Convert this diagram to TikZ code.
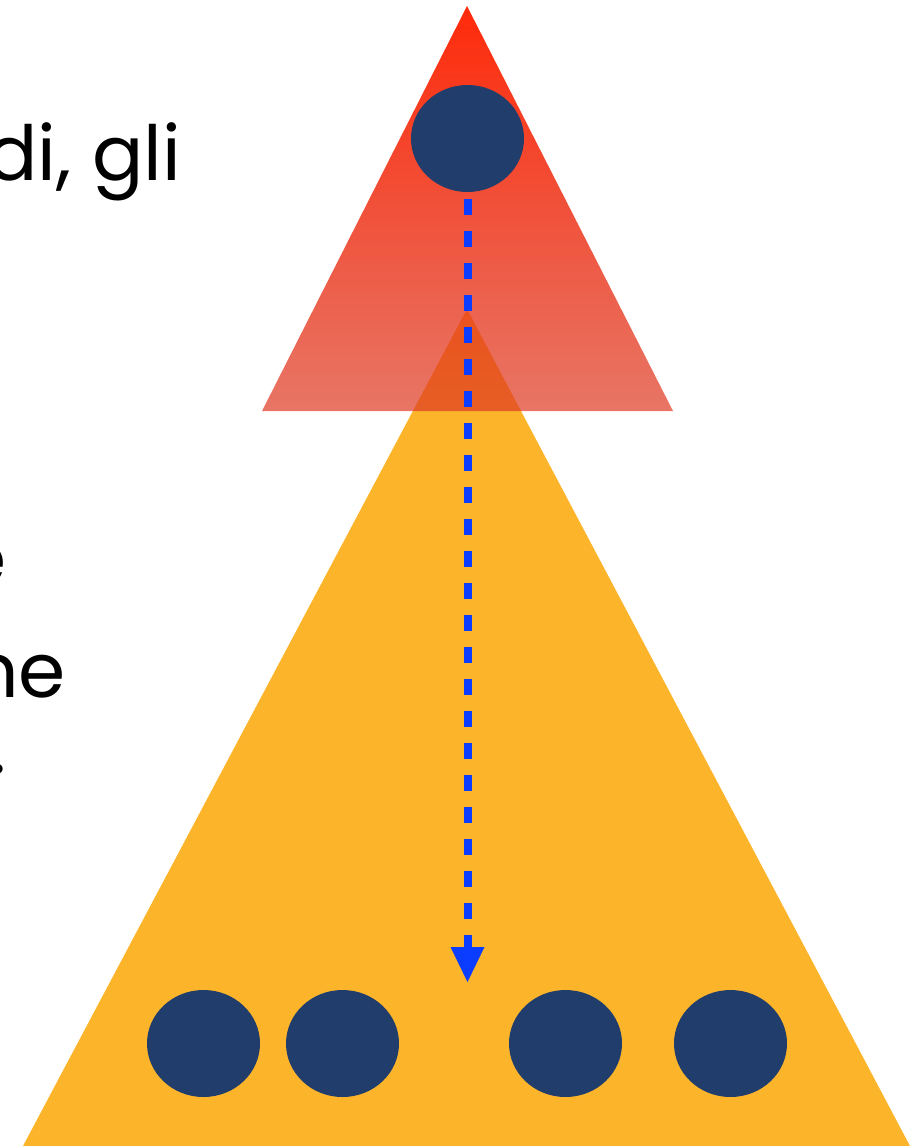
\documentclass[tikz,border=0pt]{standalone}
\usepackage{fontspec}
\setmainfont{Poppins}
\usetikzlibrary{arrows.meta,fadings,shapes.geometric}
\definecolor{navy}{RGB}{33,61,108}
\definecolor{gold}{RGB}{252,180,42}
\definecolor{redtop}{RGB}{255,42,10}
\definecolor{redbot}{RGB}{222,58,35}
\definecolor{dashblue}{RGB}{10,61,255}
\tikzfading[name=redfade, top color=transparent!0, bottom color=transparent!30]
\begin{document}
\begin{tikzpicture}[x=1pt,y=-1pt,
  dot/.style={ellipse, fill=navy, draw=none, inner sep=0pt, minimum width=113pt, minimum height=107pt},
  txt/.style={font=\fontsize{76}{90}\selectfont, inner sep=0pt, anchor=base east, text=black},
  flow/.style={draw=dashblue, line width=8pt, dash pattern=on 16pt off 16pt,
    -{Triangle[width=34pt,length=35pt,line width=0pt]}, dashblue}
]
\useasboundingbox (0,0) rectangle (922,1146);
\clip (0,0) rectangle (922,1146);
% yellow triangle
\fill[gold] (467,309) -- (910,1146) -- (23,1146) -- cycle;
% red triangle
\shade[top color=redtop, bottom color=redbot, path fading=redfade] (467,6) -- (673,411) -- (262,411) -- cycle;
% nodes
\node[dot] (top) at (467.5,138.5) {};
\node[dot] (b1) at (203.5,1043.5) {};
\node[dot] (b2) at (342.5,1043.5) {};
\node[dot] (b3) at (565.5,1043.5) {};
\node[dot] (b4) at (730.5,1043.5) {};
\coordinate (tip) at (467.5,982);
\draw[flow, shorten <=7pt] (top.south) -- (tip);
% text fragments
\node[txt] (t1) at (181,180) {di, gli};
\node[txt] (t2) at (7,585) {e};
\node[txt] (t3) at (66,697) {ne};
\node[txt] (t4) at (7,773) {.};
\end{tikzpicture}
\end{document}
